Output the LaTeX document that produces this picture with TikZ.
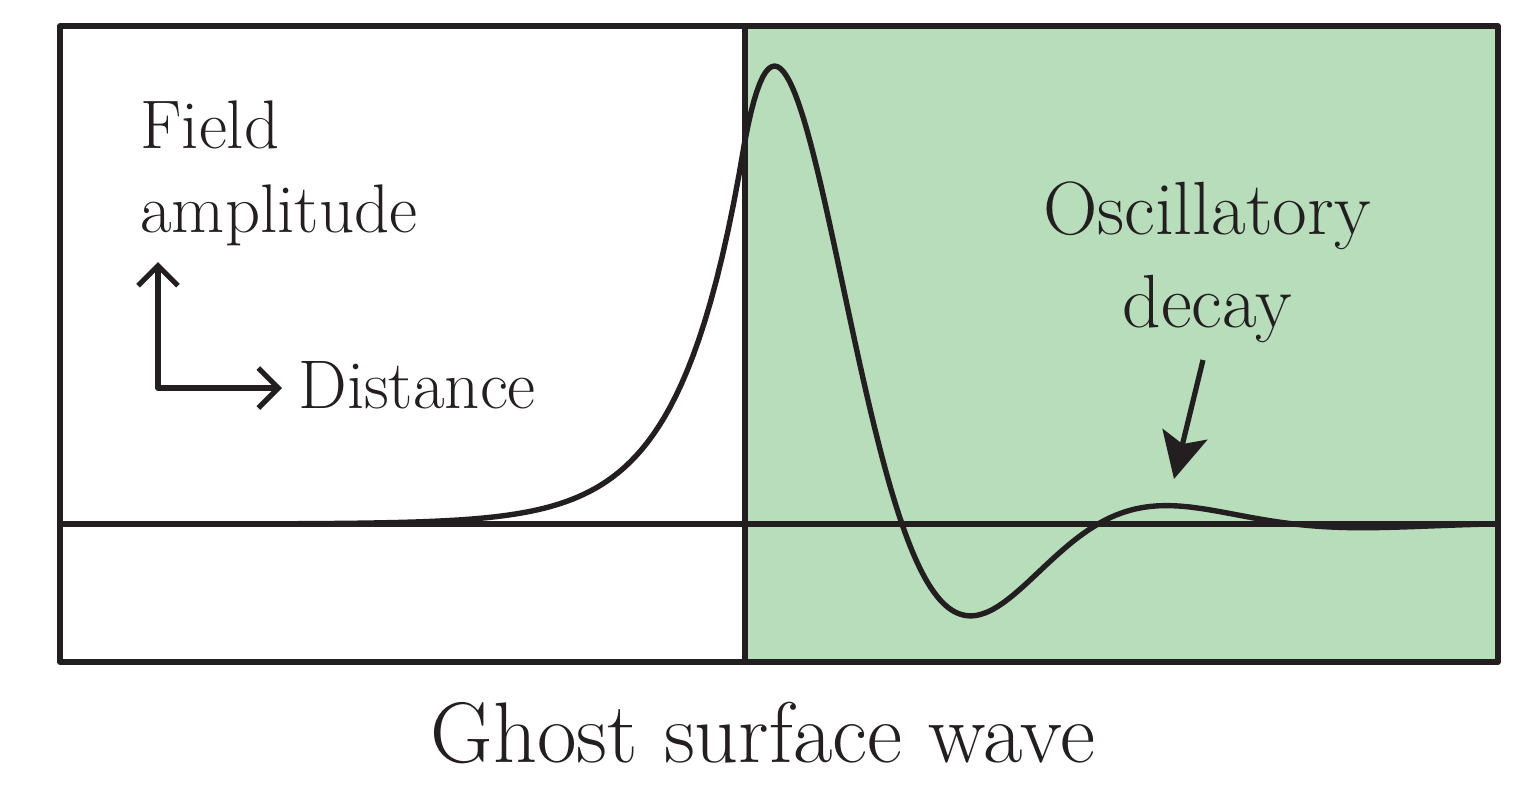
\documentclass[tikz,border=0pt]{standalone}
\usetikzlibrary{arrows.meta}
\definecolor{ink}{RGB}{35,31,32}
\definecolor{panel}{RGB}{183,221,187}
\begin{document}
\begin{tikzpicture}[x=0.5pt,y=-0.5pt,line join=round,
  frame/.style={draw=ink,line width=2.6pt},
  wave/.style={draw=ink,line width=2.7pt},
  indicator/.style={draw=ink,line width=2.6pt,{Straight Barb[length=10pt,width=20pt]}-{Straight Barb[length=10pt,width=20pt]}},
  pointer/.style={draw=ink,line width=2.6pt,-{Stealth[length=23pt,width=23pt,inset=5pt]}},
  lab/.style={text=ink,inner sep=0pt,font=\fontsize{34.4}{42}\selectfont},
  biglab/.style={text=ink,inner sep=0pt,font=\fontsize{37.7}{46.5}\selectfont},
  title/.style={text=ink,inner sep=0pt,font=\fontsize{43}{50}\selectfont}]
\useasboundingbox (0,0) rectangle (1521,784);
\fill[panel] (745,26) rectangle (1498,662);
\draw[wave] plot[domain=60:745,samples=120] (\x,{524-384*exp((\x-745)/63)})
  -- plot[domain=745:1480,samples=250] (\x,{524-655*exp(-(\x-745)/122)*sin(0.918367*(\x-706))});
\draw[frame] (60,524) -- (1498,524);
\draw[frame] (745,26) -- (745,662);
\draw[frame] (60,26) rectangle (1498,662);
\coordinate (org) at (158,388);
\coordinate (upend) at (158,262);
\coordinate (rtend) at (282,388);
\draw[indicator] (upend) -- (org) -- (rtend);
\node[lab,anchor=base west,align=left] (field) at (140,232) {Field\\amplitude};
\node[lab,anchor=base west] (dist) at (298,408) {Distance};
\node[biglab,anchor=base,align=center] (osc) at (1207,327) {Oscillatory\\decay};
\coordinate (pstart) at (1203,360);
\coordinate (ptip) at (1174,479);
\draw[pointer] (pstart) -- (ptip);
\node[title,anchor=base] (ttl) at (763,762) {Ghost surface wave};
\end{tikzpicture}
\end{document}
